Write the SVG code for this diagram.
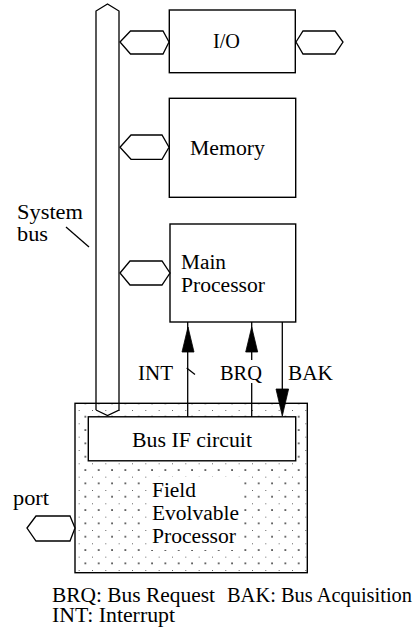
<svg xmlns="http://www.w3.org/2000/svg" width="418" height="632" viewBox="0 0 418 632">
<style>
.ln{fill:none;stroke:#000;stroke-width:1.3}
.box{fill:#fff;stroke:#000;stroke-width:1.4}
.hex{fill:#fff;stroke:#000;stroke-width:1.3}
.ah{fill:#000;stroke:#000;stroke-width:0.8}
text{font-size:20px;fill:#000}
</style>
<defs>
<pattern id="dots" patternUnits="userSpaceOnUse" x="92" y="410" width="13.333" height="13.333">
<rect x="-0.7" y="-0.7" width="1.5" height="1.5" fill="#111"/>
<rect x="5.97" y="5.97" width="1.5" height="1.5" fill="#111"/>
</pattern>
</defs>
<rect width="418" height="632" fill="#fff"/>

<g id="fep">
<rect x="75" y="403.3" width="232.3" height="169.4" fill="#fff"/>
<rect x="75" y="403.3" width="232.3" height="169.4" fill="url(#dots)" stroke="#000" stroke-width="1.4"/>
<rect x="148" y="477" width="96" height="73" fill="#fff"/>
<text font-family="Liberation Serif" x="152" y="497" textLength="44" lengthAdjust="spacingAndGlyphs">Field</text>
<text font-family="Liberation Serif" x="152" y="520" textLength="87" lengthAdjust="spacingAndGlyphs">Evolvable</text>
<text font-family="Liberation Serif" x="152" y="543" textLength="84" lengthAdjust="spacingAndGlyphs">Processor</text>
</g>

<g id="system-bus">
<polyline class="ln" points="96,410 96,11 107.5,4 119,11 119,410 107.5,415.5 96,410"/>
<text font-family="Liberation Serif" x="17" y="219" textLength="66" lengthAdjust="spacingAndGlyphs">System</text>
<text font-family="Liberation Serif" x="17" y="241" textLength="31" lengthAdjust="spacingAndGlyphs">bus</text>
<line class="ln" x1="66" y1="227" x2="89" y2="247"/>
</g>

<g id="bus-if">
<rect class="box" x="88.3" y="416.8" width="207.4" height="44"/>
<text font-family="Liberation Serif" x="132" y="447" textLength="120" lengthAdjust="spacingAndGlyphs">Bus IF circuit</text>
</g>

<g id="io">
<rect class="box" x="169.3" y="10" width="126" height="62.7"/>
<text font-family="Liberation Serif" x="213" y="48.3" textLength="27" lengthAdjust="spacingAndGlyphs">I/O</text>
</g>

<g id="memory">
<rect class="box" x="169.3" y="98.3" width="126.4" height="99"/>
<text font-family="Liberation Serif" x="190" y="155" textLength="75" lengthAdjust="spacingAndGlyphs">Memory</text>
</g>

<g id="main-processor">
<rect class="box" x="170" y="224" width="125.7" height="98"/>
<text font-family="Liberation Serif" x="181" y="269" textLength="45" lengthAdjust="spacingAndGlyphs">Main</text>
<text font-family="Liberation Serif" x="181" y="292" textLength="84" lengthAdjust="spacingAndGlyphs">Processor</text>
</g>

<g id="port">
<text font-family="Liberation Serif" x="13" y="505" textLength="36" lengthAdjust="spacingAndGlyphs">port</text>
</g>

<g id="connectors">
<polygon class="hex" points="120,42 130.5,31 163,31 169,42 163,54 130.5,54"/>
<polygon class="hex" points="296,42 303,31 335,31 343,42 335,54 303,54"/>
<polygon class="hex" points="120,147.3 131,135 162,135 169,147.3 162,159.3 131,159.3"/>
<polygon class="hex" points="120,273 130,261 162,261 170,273 162,285 130,285"/>
<polygon class="hex" points="27,528 36,516 70,516 75,528 70,541 36,541"/>

<line class="ln" x1="187.7" y1="322" x2="187.7" y2="417"/>
<polygon class="ah" points="188,327 182,352 194,352"/>
<line class="ln" x1="186.7" y1="368" x2="195" y2="374.5"/>
<text font-family="Liberation Serif" x="138" y="380" textLength="35" lengthAdjust="spacingAndGlyphs">INT</text>

<line class="ln" x1="251.7" y1="322" x2="251.7" y2="360"/>
<line class="ln" x1="251.7" y1="383" x2="251.7" y2="417"/>
<polygon class="ah" points="251.7,327 245.7,352 257.7,352"/>
<text font-family="Liberation Serif" x="220" y="380" textLength="42" lengthAdjust="spacingAndGlyphs">BRQ</text>

<line class="ln" x1="282.3" y1="322" x2="282.3" y2="400"/>
<polygon class="ah" points="282.3,416 276,389 288.6,389"/>
<text font-family="Liberation Serif" x="288" y="380" textLength="45" lengthAdjust="spacingAndGlyphs">BAK</text>
</g>

<g id="legend">
<text font-family="Liberation Serif" x="52" y="602" textLength="163" lengthAdjust="spacingAndGlyphs">BRQ: Bus Request</text>
<text font-family="Liberation Serif" x="227" y="602" textLength="185" lengthAdjust="spacingAndGlyphs">BAK: Bus Acquisition</text>
<text font-family="Liberation Serif" x="52" y="622" textLength="123" lengthAdjust="spacingAndGlyphs">INT: Interrupt</text>
</g>
</svg>
